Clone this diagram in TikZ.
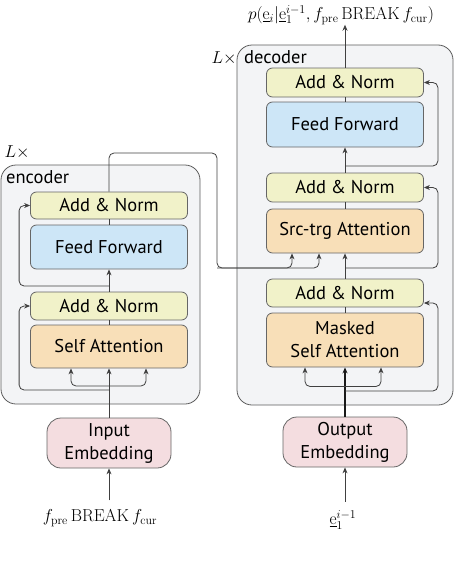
\documentclass[tikz,border=0pt]{standalone}
\usepackage[no-math]{fontspec}
\setmainfont{PT Sans}
\usetikzlibrary{arrows.meta,calc}
\definecolor{anfill}{HTML}{F1F2C9}
\definecolor{fffill}{HTML}{CDE6F7}
\definecolor{attfill}{HTML}{F8DFB8}
\definecolor{embfill}{HTML}{F4DDE0}
\definecolor{contfill}{HTML}{F3F4F6}
\definecolor{edge}{HTML}{666666}
\tikzset{
  block/.style={draw=edge, line width=0.8pt, rounded corners=6pt, minimum width=157pt, align=center,
    font=\fontsize{18.5}{23}\selectfont, inner sep=0pt},
  an/.style={block, fill=anfill, minimum height=28pt},
  ff/.style={block, fill=fffill, minimum height=44pt},
  att/.style={block, fill=attfill, minimum height=44pt},
  emb/.style={block, fill=embfill, minimum width=124pt, minimum height=50pt, rounded corners=14pt},
  cont/.style={draw=edge!90!black, fill=contfill, line width=0.8pt, rounded corners=15pt, inner sep=0pt},
  conn/.style={draw=black!75, line width=0.8pt, rounded corners=5pt},
  arr/.style={conn, -{Stealth[length=6pt,width=5pt]}},
  lbl/.style={font=\fontsize{18.5}{20}\selectfont, inner sep=0pt},
  mlbl/.style={font=\fontsize{17.5}{20}\selectfont, inner sep=0pt},
  olbl/.style={font=\fontsize{18.5}{20}\selectfont, inner sep=0pt}
}
\begin{document}
\begin{tikzpicture}[x=1pt,y=-1pt]
\useasboundingbox (0,0) rectangle (454,562);
% containers
\node[cont, minimum width=199pt, minimum height=239pt] (encBox) at (100.5,284.5) {};
\node[cont, minimum width=216pt, minimum height=360pt] (decBox) at (345,225) {};
\node[lbl, anchor=north west] (encTxt) at (6,170) {encoder};
\node[lbl, anchor=north west] (decTxt) at (244,50) {decoder};
\node[mlbl] (encL) at (17,152) {$L\times$};
\node[mlbl] (decL) at (224,58) {$L\times$};
% encoder blocks
\node[att, minimum height=43pt] (encSA) at (109,346.5) {Self Attention};
\node[an] (encAN1) at (109,306) {Add \& Norm};
\node[ff] (encFF) at (109,247) {Feed Forward};
\node[an, minimum height=27pt] (encAN2) at (109,205.5) {Add \& Norm};
\node[emb] (inEmb) at (109,443) {Input\\Embedding};
\node[mlbl] (inLbl) at (100,518) {$f_{\mathrm{pre}}\,\mathrm{BREAK}\,f_{\mathrm{cur}}$};
% decoder blocks
\node[att, minimum height=54pt] (decMSA) at (345,340) {Masked\\Self Attention};
\node[an] (decAN1) at (345,293) {Add \& Norm};
\node[att] (decST) at (345,231) {Src-trg Attention};
\node[an, minimum height=29pt] (decAN2) at (345,187.5) {Add \& Norm};
\node[ff, minimum height=45pt] (decFF) at (345,124.5) {Feed Forward};
\node[an, minimum height=29pt] (decAN3) at (345,82.5) {Add \& Norm};
\node[emb] (outEmb) at (345,442) {Output\\Embedding};
\node[mlbl] (eLbl) at (343,520) {$\underline{\mathrm{e}}_1^{i-1}$};
\node[olbl] (out) at (341,15) {$p(\underline{\mathrm{e}}_i|\underline{\mathrm{e}}_1^{i-1},f_{\mathrm{pre}}\,\mathrm{BREAK}\,f_{\mathrm{cur}})$};
% encoder connectors
\coordinate (eb) at (109,386);
\coordinate (er1) at (109,390);
\coordinate (er2) at (109,286);
\draw[arr] (inEmb.south |- inLbl.north) ++(0,-9) -- (inEmb.south);
\draw[arr] (inEmb.north) -- (encSA.south);
\draw[arr] (eb) -| ([xshift=-38pt]encSA.south);
\draw[arr] (eb) -| ([xshift=37pt]encSA.south);
\draw[arr] (er1) -| ([xshift=-11pt]encAN1.west) -- (encAN1.west);
\draw[conn] (encSA.north) -- (encAN1.south);
\draw[arr] (encAN1.north) -- (encFF.south);
\draw[arr] (er2) -| ([xshift=-11pt]encAN2.west) -- (encAN2.west);
\draw[conn] (encFF.north) -- (encAN2.south);
\coordinate (x1) at (217,268);
\draw[arr] (encAN2.north) -- (109,153) -- (217,153) -- (x1) -| ([xshift=-53pt]decST.south);
\draw[arr] (x1) -| ([xshift=-26pt]decST.south);
% decoder connectors
\coordinate (db) at (345,386.5);
\coordinate (dr1) at (345,391);
\coordinate (dr2) at (345,268);
\coordinate (dr3) at (345,166);
\draw[arr] (outEmb.south |- eLbl.north) ++(0,-9) -- (outEmb.south);
\draw[arr, line width=1.3pt, draw=black!90] (outEmb.north) -- (decMSA.south);
\draw[arr] (db) -| ([xshift=-40pt]decMSA.south);
\draw[arr] (db) -| ([xshift=36pt]decMSA.south);
\draw[arr] (dr1) -| ([xshift=14pt,yshift=-10pt]decAN1.east) -- ([yshift=-10pt]decAN1.east);
\draw[conn] (decMSA.north) -- (decAN1.south);
\draw[arr] (decAN1.north) -- (decST.south);
\draw[arr] (dr2) -| ([xshift=14pt]decAN2.east) -- (decAN2.east);
\draw[conn] (decST.north) -- (decAN2.south);
\draw[arr] (decAN2.north) -- (decFF.south);
\draw[arr] (dr3) -| ([xshift=14pt]decAN3.east) -- (decAN3.east);
\draw[conn] (decFF.north) -- (decAN3.south);
\draw[arr] (decAN3.north) -- (decAN3.north |- out.south);
\end{tikzpicture}
\end{document}
